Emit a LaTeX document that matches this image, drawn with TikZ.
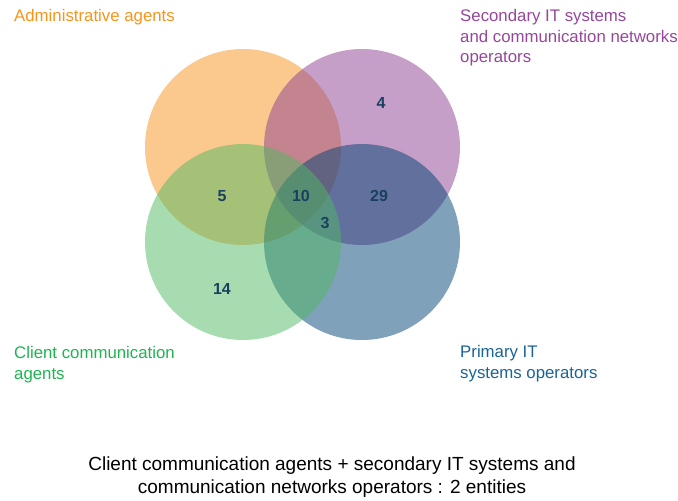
\documentclass[tikz,border=0pt]{standalone}
\usepackage{fontspec}
\setmainfont{Liberation Sans}
\definecolor{corange}{RGB}{247,148,29}
\definecolor{cpurple}{RGB}{142,63,145}
\definecolor{cgreen}{RGB}{80,185,97}
\definecolor{cblue}{RGB}{0,67,117}
\definecolor{torange}{RGB}{247,148,29}
\definecolor{tpurple}{RGB}{150,70,155}
\definecolor{tgreen}{RGB}{30,180,80}
\definecolor{tblue}{RGB}{25,100,150}
\definecolor{numcol}{RGB}{25,65,95}
\tikzset{
  setcircle/.style={circle, minimum size=196pt, inner sep=0pt, fill opacity=0.5, text opacity=1},
  setlabel/.style={inner sep=0pt, anchor=north west, align=left, font=\fontsize{16.8}{20.5}\selectfont},
  numlabel/.style={inner sep=0pt, anchor=base, text=numcol, font=\fontsize{16}{18}\selectfont\bfseries},
}
\begin{document}
\begin{tikzpicture}[x=1pt,y=-1pt]
\useasboundingbox (0,0) rectangle (678,501);
\node[setcircle, fill=corange] (orange) at (243,147) {};
\node[setcircle, fill=cpurple] (purple) at (362,147) {};
\node[setcircle, fill=cblue] (blue) at (362,242) {};
\node[setcircle, fill=cgreen] (green) at (243,242) {};

\node[numlabel] (n4) at (381,108) {4};
\node[numlabel] (n5) at (222,201) {5};
\node[numlabel] (n10) at (301,201) {10};
\node[numlabel] (n29) at (379,201) {29};
\node[numlabel] (n3) at (325,228) {3};
\node[numlabel] (n14) at (222,294) {14};

\node[setlabel, text=torange] (ladmin) at (14,9) {Administrative agents};
\node[setlabel, text=tpurple] (lsec) at (460,9.5) {Secondary IT systems\\and communication networks\\operators};
\node[setlabel, text=tgreen] (lclient) at (14,346.5) {Client communication\\agents};
\node[setlabel, text=tblue] (lprim) at (460,345.5) {Primary IT\\systems operators};
\node[inner sep=0pt, anchor=north, align=center, font=\fontsize{19}{23}\selectfont] (note) at (332,457)
  {Client communication agents + secondary IT systems and\\communication networks operators : 2 entities};
\end{tikzpicture}
\end{document}
